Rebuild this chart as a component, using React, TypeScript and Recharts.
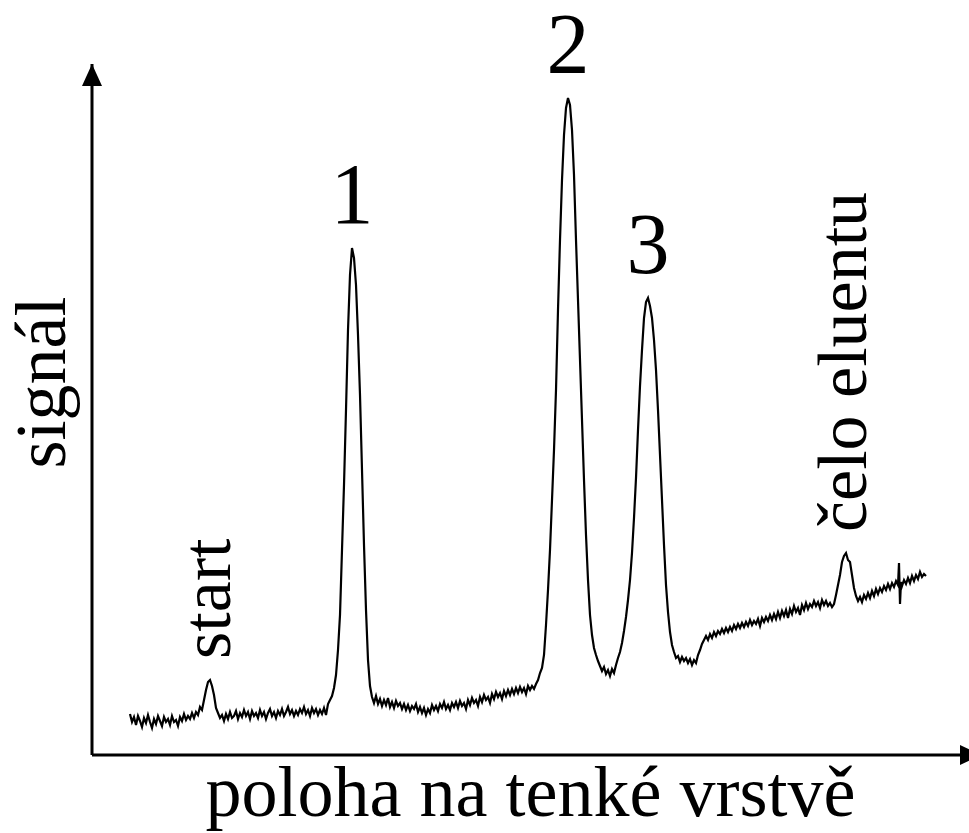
// App.tsx
import { LineChart, Line, XAxis, YAxis, ReferenceDot, ReferenceLine } from 'recharts';

// densitometric scan of a thin layer: [position, signal]
const startRegion = [
  [38, 41], [40, 33], [42, 38], [44, 30], [46, 39], [48, 34], [50, 28], [52, 37], [54, 32], [56, 40],
  [58, 33], [60, 27], [62, 36], [64, 31], [66, 39], [68, 34], [70, 29], [72, 38], [74, 33], [76, 36],
  [78, 30], [80, 39], [82, 33], [84, 35], [86, 29], [88, 38], [90, 34], [92, 41], [94, 35], [96, 39],
  [98, 36], [100, 42], [102, 37], [104, 43], [106, 40], [108, 48], [110, 45], [112, 55], [114, 65], [116, 73],
  [118, 75], [120, 69], [122, 60], [124, 47], [126, 42], [128, 37], [130, 40], [132, 34], [134, 41]
];

const baselineRegion = [
  [136, 36], [138, 43], [140, 37], [142, 39], [144, 44], [146, 36], [148, 42], [150, 38], [152, 45], [154, 39],
  [156, 43], [158, 36], [160, 44], [162, 39], [164, 42], [166, 37], [168, 45], [170, 39], [172, 43], [174, 36],
  [176, 42], [178, 46], [180, 39], [182, 43], [184, 37], [186, 44], [188, 40], [190, 46], [192, 39], [194, 43],
  [196, 48], [198, 41], [200, 45], [202, 39], [204, 44], [206, 40], [208, 46], [210, 42], [212, 48], [214, 41],
  [216, 45], [218, 39], [220, 47], [222, 42], [224, 46], [226, 40], [228, 45], [230, 41], [232, 47], [234, 40]
];

const peak1Region = [
  [236, 51], [238, 55], [240, 59], [242, 67], [244, 80], [246, 105], [248, 140], [250, 205], [252, 270], [254, 345],
  [256, 425], [258, 480], [260, 507], [262, 497], [264, 470], [266, 420], [268, 360], [270, 285], [272, 210], [274, 145],
  [276, 95], [278, 69], [280, 58], [282, 52]
];

const midRegion = [
  [284, 59], [286, 51], [288, 56], [290, 49], [292, 55], [294, 50], [296, 57], [298, 48], [300, 53], [302, 47],
  [304, 54], [306, 49], [308, 52], [310, 46], [312, 51], [314, 45], [316, 50], [318, 44], [320, 49], [322, 46],
  [324, 51], [326, 43], [328, 48], [330, 42], [332, 47], [334, 40], [336, 46], [338, 42], [340, 50], [342, 45],
  [344, 49], [346, 44], [348, 51], [350, 47], [352, 53], [354, 46], [356, 50], [358, 45], [360, 52], [362, 48],
  [364, 53], [366, 47], [368, 54], [370, 49], [372, 52], [374, 46], [376, 55], [378, 50], [380, 57], [382, 52],
  [384, 55], [386, 49], [388, 58], [390, 53], [392, 60], [394, 55], [396, 58], [398, 52], [400, 61], [402, 56],
  [404, 63], [406, 58], [408, 62], [410, 56], [412, 64], [414, 59], [416, 65], [418, 60], [420, 66], [422, 61],
  [424, 67], [426, 62], [428, 68], [430, 63], [432, 67], [434, 61], [436, 69], [438, 65], [440, 69], [442, 66],
  [444, 71]
];

const peak23Region = [
  [446, 75], [448, 82], [450, 87], [452, 100], [454, 130], [456, 165], [458, 205], [460, 255], [462, 305], [464, 365],
  [466, 445], [468, 515], [470, 575], [472, 620], [474, 647], [476, 657], [478, 650], [480, 625], [482, 580], [484, 515],
  [486, 455], [488, 395], [490, 335], [492, 275], [494, 220], [496, 175], [498, 140], [500, 120], [502, 107], [504, 100],
  [506, 94], [508, 89], [510, 84], [512, 88], [514, 81], [516, 85], [518, 79], [520, 86], [522, 82], [524, 90],
  [526, 97], [528, 103], [530, 112], [532, 124], [534, 138], [536, 155], [538, 175], [540, 202], [542, 237], [544, 277],
  [546, 325], [548, 369], [550, 405], [552, 437], [554, 453], [556, 457], [558, 449], [560, 437], [562, 415], [564, 385],
  [566, 345], [568, 300], [570, 255], [572, 210], [574, 170], [576, 143], [578, 123], [580, 110], [582, 103], [584, 97]
];

const frontRegion = [
  [586, 99], [588, 93], [590, 98], [592, 94], [594, 97], [596, 92], [598, 96], [600, 90], [602, 95], [604, 92],
  [606, 100], [608, 105], [610, 111], [612, 115], [614, 119], [616, 115], [618, 121], [620, 117], [622, 123], [624, 119],
  [626, 124], [628, 121], [630, 126], [632, 122], [634, 127], [636, 123], [638, 128], [640, 124], [642, 130], [644, 126],
  [646, 131], [648, 127], [650, 132], [652, 128], [654, 133], [656, 129], [658, 135], [660, 130], [662, 134], [664, 131],
  [666, 136], [668, 129], [670, 137], [672, 133], [674, 138], [676, 134], [678, 140], [680, 135], [682, 141], [684, 136],
  [686, 143], [688, 137], [690, 144], [692, 139], [694, 145], [696, 137], [698, 146], [700, 141], [702, 149], [704, 143],
  [706, 147], [708, 140], [710, 150], [712, 145], [714, 152], [716, 146], [718, 151], [720, 148], [722, 154], [724, 149],
  [726, 153], [728, 147], [730, 155], [732, 150], [734, 154], [736, 149], [738, 152], [740, 148], [742, 151], [744, 160],
  [746, 170], [748, 180], [750, 193], [752, 199], [754, 202], [756, 195], [758, 193], [760, 180], [762, 167], [764, 159],
  [766, 154], [768, 158], [770, 153], [772, 160], [774, 156], [776, 162], [778, 157], [780, 164], [782, 159], [784, 166],
  [786, 161], [788, 167], [790, 163], [792, 169], [794, 165], [796, 171], [798, 166], [800, 172], [802, 168], [804, 174],
  [806, 170], [807, 192], [808, 151], [809, 173], [810, 169], [812, 175], [814, 171], [816, 177], [818, 172], [820, 179],
  [822, 174], [824, 180], [826, 176], [828, 183], [830, 178], [832, 181], [834, 179]
];

const peakNumbers = [
  { text: '1', pos: 260, signal: 507 },
  { text: '2', pos: 476, signal: 657 },
  { text: '3', pos: 556, signal: 457 }
];

const sideLabels = [
  { text: 'start', pos: 118, signal: 75 },
  { text: 'čelo eluentu', pos: 754, signal: 202 }
];

const xTitle = 'poloha na tenké vrstvě';
const yTitle = 'signál';

const X_MAX = 877;
const Y_MAX = 691;

const FONT = "'Liberation Serif', 'Times New Roman', serif";

const data = [...startRegion, ...baselineRegion, ...peak1Region, ...midRegion, ...peak23Region, ...frontRegion].map(
  ([pos, signal]) => ({ pos, signal })
);

export default function App() {
  return (
    <div style={{ position: 'absolute', left: 0, top: 0, background: '#fff' }}>
      <LineChart width={969} height={833} data={data} margin={{ top: 64, right: 0, left: 92, bottom: 78 }}>
        <XAxis type="number" dataKey="pos" domain={[0, X_MAX]} hide />
        <YAxis type="number" domain={[0, Y_MAX]} hide />
        {/* axes drawn as reference lines, with their titles */}
        <ReferenceLine
          y={0}
          stroke="#000"
          strokeWidth={3}
          ifOverflow="visible"
          label={(p: any) => {
            const vb = p.viewBox;
            return (
              <text x={vb.x + vb.width / 2} y={vb.y + 61} textAnchor="middle" fontFamily={FONT} fontSize={72} fill="#000">
                {xTitle}
              </text>
            );
          }}
        />
        <ReferenceLine
          x={0}
          stroke="#000"
          strokeWidth={3}
          ifOverflow="visible"
          label={(p: any) => {
            const vb = p.viewBox;
            const x = vb.x - 27;
            const y = vb.y + vb.height / 2 - 27;
            return (
              <text x={x} y={y} textAnchor="middle" transform={`rotate(-90 ${x} ${y})`} fontFamily={FONT} fontSize={72} fill="#000">
                {yTitle}
              </text>
            );
          }}
        />
        <Line
          type="linear"
          dataKey="signal"
          stroke="#000"
          strokeWidth={2.2}
          dot={false}
          activeDot={false}
          isAnimationActive={false}
        />
        {/* arrow heads on the axes */}
        <ReferenceDot
          x={X_MAX}
          y={0}
          r={0}
          ifOverflow="visible"
          shape={(p: any) => (
            <polygon points={`${p.cx - 9},${p.cy - 10} ${p.cx + 12},${p.cy} ${p.cx - 9},${p.cy + 10}`} fill="#000" />
          )}
        />
        <ReferenceDot
          x={0}
          y={Y_MAX}
          r={0}
          ifOverflow="visible"
          shape={(p: any) => (
            <polygon points={`${p.cx - 10},${p.cy + 22} ${p.cx},${p.cy} ${p.cx + 10},${p.cy + 22}`} fill="#000" />
          )}
        />
        {peakNumbers.map(l => (
          <ReferenceDot
            key={l.text}
            x={l.pos}
            y={l.signal}
            r={0}
            ifOverflow="visible"
            shape={(p: any) => (
              <text x={p.cx} y={p.cy - 25} textAnchor="middle" fontFamily={FONT} fontSize={86} fill="#000">
                {l.text}
              </text>
            )}
          />
        ))}
        {sideLabels.map(l => (
          <ReferenceDot
            key={l.text}
            x={l.pos}
            y={l.signal}
            r={0}
            ifOverflow="visible"
            shape={(p: any) => {
              const x = p.cx + 20;
              const y = p.cy - 21;
              return (
                <text x={x} y={y} textAnchor="start" transform={`rotate(-90 ${x} ${y})`} fontFamily={FONT} fontSize={70} fill="#000">
                  {l.text}
                </text>
              );
            }}
          />
        ))}
      </LineChart>
    </div>
  );
}
